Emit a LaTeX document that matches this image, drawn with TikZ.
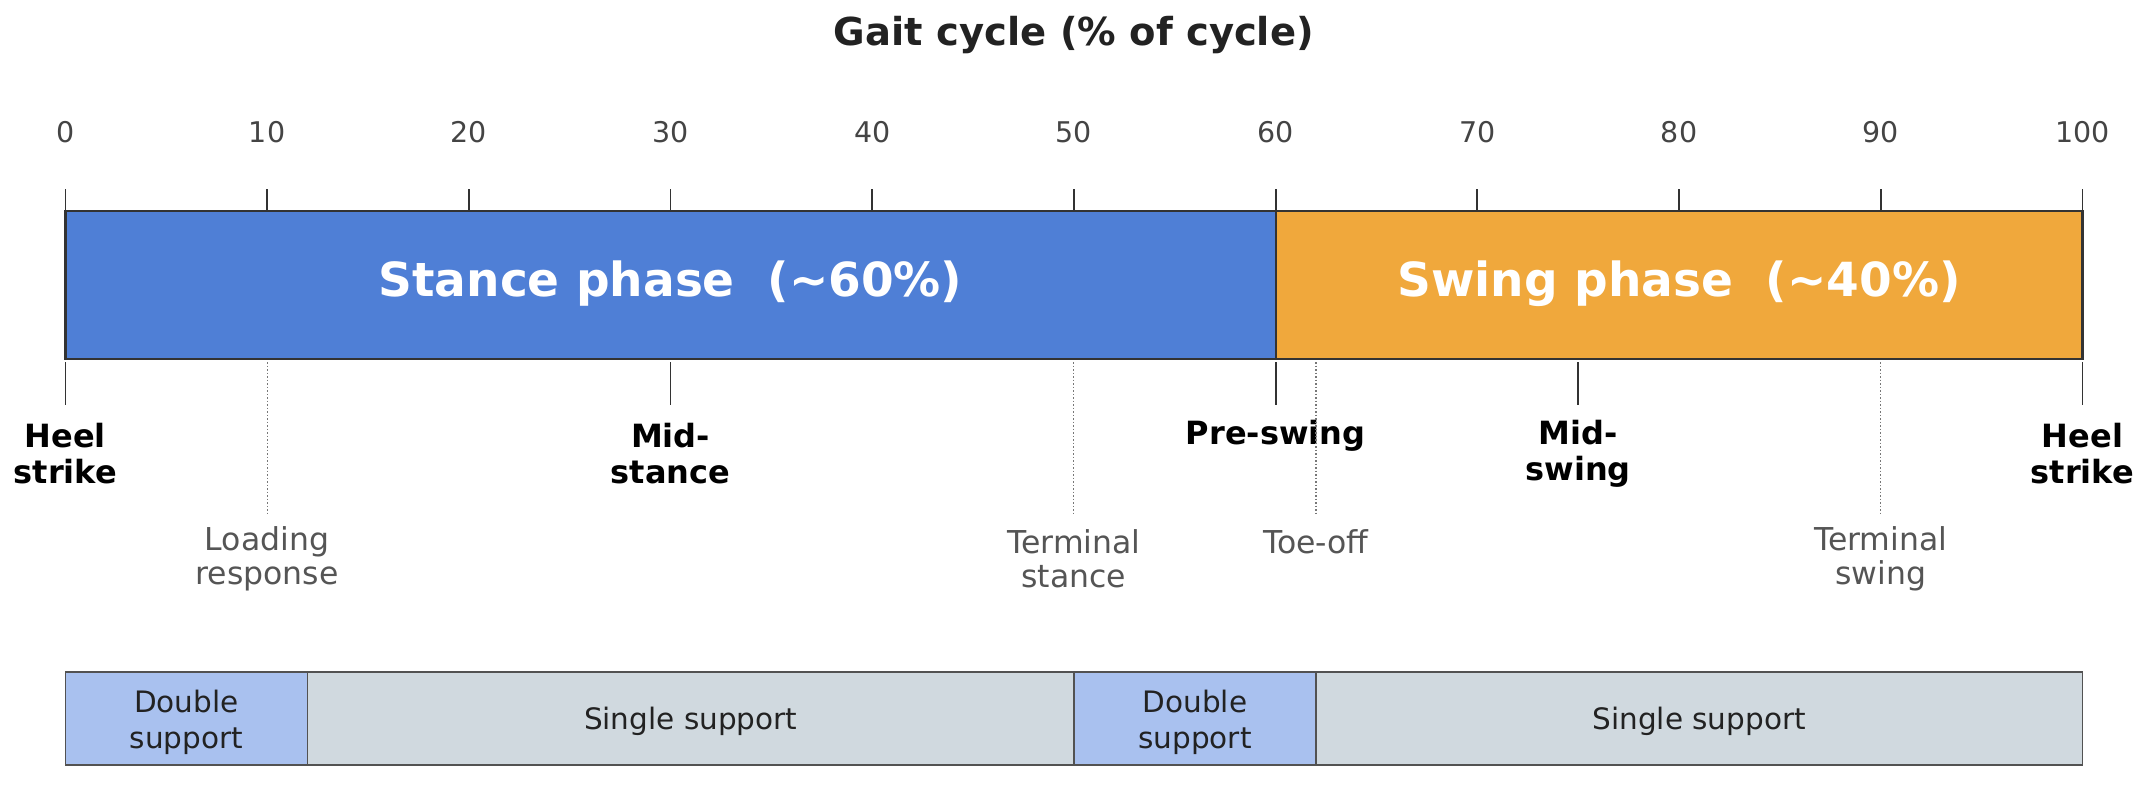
\documentclass[tikz,border=0pt]{standalone}
\usepackage{fontspec}
\setmainfont{DejaVu Sans}
\definecolor{stancec}{HTML}{4F7FD6}
\definecolor{swingc}{HTML}{F0A83C}
\definecolor{doublec}{HTML}{A9C1EF}
\definecolor{singlec}{HTML}{D0D9DF}
\definecolor{tickc}{HTML}{333333}
\definecolor{labc}{HTML}{444444}
\definecolor{subc}{HTML}{555555}
\definecolor{dotc}{HTML}{777777}
\definecolor{titlec}{HTML}{222222}
\begin{document}
\begin{tikzpicture}[x=20.17pt,y=-1pt,
  tick/.style={line width=1.8pt, draw=tickc},
  evline/.style={line width=1.1pt, draw=dotc, dash pattern=on 1.5pt off 2pt},
  barline/.style={line width=2.2pt, draw=tickc},
  suppline/.style={line width=1.8pt, draw=tickc!85},
  ticklab/.style={font=\fontsize{28.5}{34}\selectfont, text=labc},
  phaselab/.style={font=\fontsize{47}{56}\selectfont\bfseries, text=white},
  keyev/.style={font=\fontsize{32}{36}\selectfont\bfseries, text=black, align=center, inner sep=0pt},
  subev/.style={font=\fontsize{31.5}{34}\selectfont, text=subc, align=center, inner sep=0pt},
  supp/.style={font=\fontsize{29.5}{36}\selectfont, text=titlec, align=center, inner sep=0pt}]
\useasboundingbox (-3.2425,0) rectangle (103.4,787);
% title
\node[font=\fontsize{38.5}{46}\selectfont\bfseries, text=titlec] (title) at (50,35) {Gait cycle (\% of cycle)};
% axis ticks
\foreach \p in {0,10,...,100} {
  \draw[tick] (\p,189) -- (\p,211);
  \node[ticklab] (t\p) at (\p,132) {\p};
}
% phase bars
\draw[barline, fill=stancec] (0,211) rectangle (60,359);
\draw[barline, fill=swingc] (60,211) rectangle (100,359);
\node[phaselab] (stance) at (30,284) {Stance phase\ \ (\textasciitilde60\%)};
\node[phaselab] (swing) at (80,284) {Swing phase\ \ (\textasciitilde40\%)};
% key events (solid)
\foreach \p in {0,30,60,75,100} { \draw[tick] (\p,362) -- (\p,405); }
\node[keyev] (hs1) at (0,454) {Heel\\strike};
\node[keyev] (ms) at (30,454) {Mid-\\stance};
\node[keyev] (ps) at (60,436) {Pre-swing};
\node[keyev] (msw) at (75,454) {Mid-\\swing};
\node[keyev] (hs2) at (100,454) {Heel\\strike};
% sub events (dotted)
\foreach \p in {10,50,62,90} { \draw[evline] (\p,362) -- (\p,514); }
\node[subev] (lr) at (10,559) {Loading\\response};
\node[subev] (ts) at (50,559) {Terminal\\stance};
\node[subev] (to) at (62,542) {Toe-off};
\node[subev] (tsw) at (90,559) {Terminal\\swing};
% support bar
\draw[suppline, fill=doublec] (0,672) rectangle (12,765);
\draw[suppline, fill=singlec] (12,672) rectangle (50,765);
\draw[suppline, fill=doublec] (50,672) rectangle (62,765);
\draw[suppline, fill=singlec] (62,672) rectangle (100,765);
\node[supp] (ds1) at (6,722) {Double\\support};
\node[supp] (ss1) at (31,721) {Single support};
\node[supp] (ds2) at (56,722) {Double\\support};
\node[supp] (ss2) at (81,721) {Single support};
\end{tikzpicture}
\end{document}
